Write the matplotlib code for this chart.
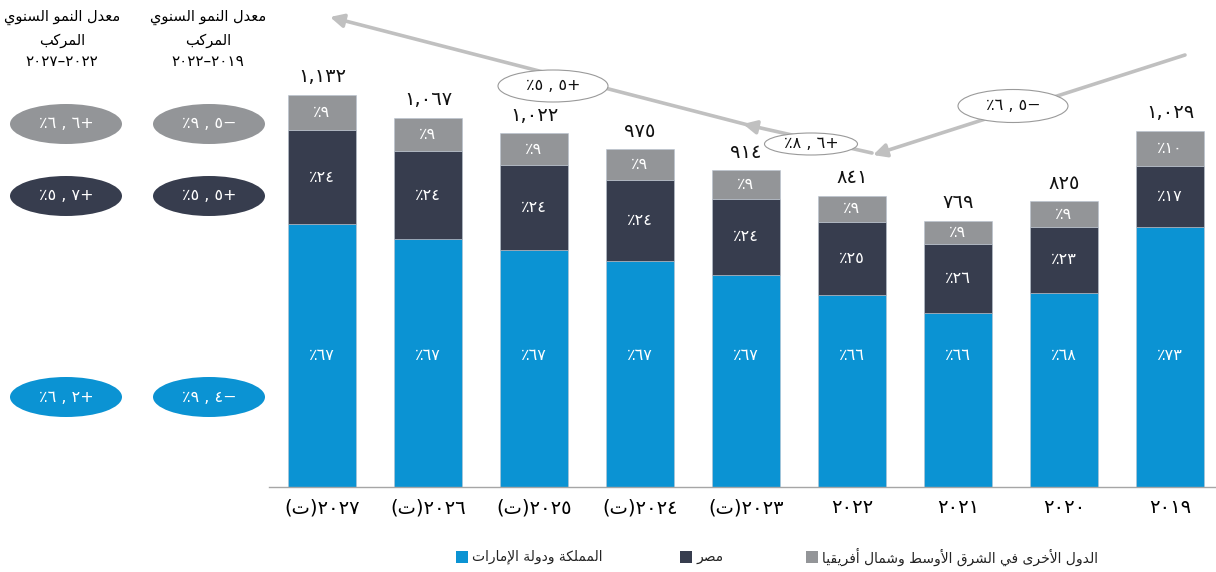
import matplotlib
matplotlib.use('Agg')
import matplotlib.pyplot as plt
from matplotlib.patches import Ellipse, Rectangle, FancyArrowPatch
import numpy as np

plt.rcParams['font.family'] = ['DejaVu Sans']

# ---------------- data ----------------
years = ['2027', '2026', '2025', '2024', '2023', '2022', '2021', '2020', '2019']
forecast = [True, True, True, True, True, False, False, False, False]
totals = [1132, 1067, 1022, 975, 914, 841, 769, 825, 1029]
pct_ksa_uae = [67, 67, 67, 67, 67, 66, 66, 68, 73]
pct_egypt = [24, 24, 24, 24, 24, 25, 26, 23, 17]
pct_other = [9, 9, 9, 9, 9, 9, 9, 9, 10]
series_names = ['المملكة ودولة الإمارات', 'مصر', 'الدول الأخرى في الشرق الأوسط وشمال أفريقيا']
cagr_2022_2027 = [6.2, 5.7, 6.6]    # ksa/uae, egypt, other
cagr_2019_2022 = [-9.4, 5.5, -9.5]  # ksa/uae, egypt, other
total_cagr_2019_2022 = -6.5
total_growth_2022_2023 = 8.6
total_cagr_2022_2027 = 5.5
header_title = 'معدل النمو السنوي'
header_sub = 'المركب'
forecast_mark = 'ت'

colors = ['#0b93d3', '#373d4e', '#939598']

# ---------------- arabic helpers ----------------
_DUAL = {0x0626: 0xFE89, 0x0628: 0xFE8F, 0x062A: 0xFE95, 0x062B: 0xFE99, 0x062C: 0xFE9D,
         0x062D: 0xFEA1, 0x062E: 0xFEA5, 0x0633: 0xFEB1, 0x0634: 0xFEB5, 0x0635: 0xFEB9,
         0x0636: 0xFEBD, 0x0637: 0xFEC1, 0x0638: 0xFEC5, 0x0639: 0xFEC9, 0x063A: 0xFECD,
         0x0641: 0xFED1, 0x0642: 0xFED5, 0x0643: 0xFED9, 0x0644: 0xFEDD, 0x0645: 0xFEE1,
         0x0646: 0xFEE5, 0x0647: 0xFEE9, 0x064A: 0xFEF1}
_RIGHT = {0x0622: 0xFE81, 0x0623: 0xFE83, 0x0624: 0xFE85, 0x0625: 0xFE87, 0x0627: 0xFE8D,
          0x0629: 0xFE93, 0x062F: 0xFEA9, 0x0630: 0xFEAB, 0x0631: 0xFEAD, 0x0632: 0xFEAF,
          0x0648: 0xFEED, 0x0649: 0xFEEF}
FORMS = {0x0621: (0xFE80,)}
for k, b in _DUAL.items():
    FORMS[k] = (b, b + 1, b + 2, b + 3)
for k, b in _RIGHT.items():
    FORMS[k] = (b, b + 1)
LAMALEF = {'\u0622': (0xFEF5, 0xFEF6), '\u0623': (0xFEF7, 0xFEF8),
           '\u0625': (0xFEF9, 0xFEFA), '\u0627': (0xFEFB, 0xFEFC)}


def _dual(c):
    return ord(c) in FORMS and len(FORMS[ord(c)]) == 4


def _rjoin(c):
    return ord(c) in FORMS and len(FORMS[ord(c)]) > 1


def ar(text):
    chars = list(text)
    toks = []
    i = 0
    while i < len(chars):
        c = chars[i]
        if c == '\u0644' and i + 1 < len(chars) and chars[i + 1] in LAMALEF:
            toks.append(('LA', chars[i + 1]))
            i += 2
        else:
            toks.append(('C', c))
            i += 1
    res = []
    for k, (t, c) in enumerate(toks):
        prev = toks[k - 1] if k > 0 else None
        nxt = toks[k + 1] if k + 1 < len(toks) else None
        prev_j = prev is not None and prev[0] == 'C' and _dual(prev[1])
        if t == 'LA':
            iso, fin = LAMALEF[c]
            res.append(chr(fin if prev_j else iso))
            continue
        if ord(c) not in FORMS:
            res.append(c)
            continue
        f = FORMS[ord(c)]
        pj = prev_j and _rjoin(c)
        nj = _dual(c) and nxt is not None and (nxt[0] == 'LA' or _rjoin(nxt[1]))
        if pj and nj:
            res.append(chr(f[3]))
        elif pj:
            res.append(chr(f[1]))
        elif nj:
            res.append(chr(f[2]))
        else:
            res.append(chr(f[0]))
    return ''.join(reversed(res))


AD = str.maketrans('0123456789', '٠١٢٣٤٥٦٧٨٩')


def fmt_total(v):
    return f'{v:,}'.translate(AD)


def fmt_pct(v):
    return '٪' + str(v).translate(AD)


def fmt_cagr(v):
    s = f'{abs(v):.1f}'
    a, b = s.split('.')
    sign = '+' if v >= 0 else '−'
    return '٪' + a.translate(AD) + ' , ' + b.translate(AD) + sign


def fmt_year(y, fc):
    return ('(' + forecast_mark + ')' if fc else '') + y.translate(AD)


# ---------------- figure ----------------
W, H = 1216, 572
fig = plt.figure(figsize=(W / 100, H / 100), dpi=100)
fig.patch.set_facecolor('white')

base_px = 487
ax = fig.add_axes([269 / W, (H - base_px) / H, (W - 269) / W, base_px / H])
x = np.arange(len(years))
tot = np.array(totals, float)
P = np.array([pct_ksa_uae, pct_egypt, pct_other], float)
Hs = tot * P / P.sum(axis=0)
bw = 0.64
bottom = np.zeros(len(years))
for i in range(3):
    ax.bar(x, Hs[i], bottom=bottom, width=bw, color=colors[i], edgecolor='#b9c3cf',
           linewidth=0.4, zorder=2)
    bottom += Hs[i]

ax.set_xlim(-0.5, (W - 322) / 106)
px_per_unit = 392 / 1132
ax.set_ylim(0, base_px / px_per_unit)

# segment labels
blue_label_y = 132 / px_per_unit
for j in range(len(years)):
    ax.text(x[j], blue_label_y, fmt_pct(pct_ksa_uae[j]), ha='center', va='center',
            color='white', fontsize=11.5, zorder=3)
    ax.text(x[j], Hs[0][j] + Hs[1][j] / 2, fmt_pct(pct_egypt[j]), ha='center',
            va='center', color='white', fontsize=11.5, zorder=3)
    ax.text(x[j], Hs[0][j] + Hs[1][j] + Hs[2][j] / 2, fmt_pct(pct_other[j]),
            ha='center', va='center', color='white', fontsize=11.5, zorder=3)
    ax.annotate(fmt_total(totals[j]), (x[j], totals[j]), xytext=(0, 13),
                textcoords='offset points', ha='center', va='center', fontsize=14,
                color='#111111')

for s in ['top', 'right', 'left']:
    ax.spines[s].set_visible(False)
ax.spines['bottom'].set_color('#a6a6a6')
ax.spines['bottom'].set_linewidth(1.0)
ax.set_yticks([])
ax.set_xticks(x)
ax.set_xticklabels([fmt_year(y, f) for y, f in zip(years, forecast)], fontsize=14)
ax.tick_params(axis='x', length=0, pad=8)

# ---------------- overlay (annotations) ----------------
ov = fig.add_axes([0, 0, 1, 1], zorder=5)
ov.set_xlim(0, W)
ov.set_ylim(H, 0)
ov.axis('off')
ov.patch.set_alpha(0)

# header
for cx, (a, b) in [(208, ('2019', '2022')), (62, ('2022', '2027'))]:
    ov.text(cx, 17, ar(header_title), ha='center', va='center', fontsize=10.5)
    ov.text(cx, 40, ar(header_sub), ha='center', va='center', fontsize=10.5)
    ov.text(cx, 61, b.translate(AD) + '–' + a.translate(AD), ha='center', va='center',
            fontsize=11)

rows_y = [397, 196, 124]  # ksa, egypt, other
for i in range(3):
    for cx, vals in [(66, cagr_2022_2027), (209, cagr_2019_2022)]:
        ov.add_patch(Ellipse((cx, rows_y[i]), 112, 40, facecolor=colors[i],
                             edgecolor='none'))
        ov.text(cx, rows_y[i], fmt_cagr(vals[i]), ha='center', va='center',
                color='white', fontsize=11.5)

# arrows
acol = '#c0c0c0'
for p0, p1 in [((1185, 55), (873, 155)), ((872, 153), (743, 124)), ((752, 126), (330, 17))]:
    ov.add_patch(FancyArrowPatch(p0, p1, arrowstyle='-|>', mutation_scale=20,
                                 color=acol, lw=2.6, shrinkA=0, shrinkB=0))

for (cx, cy, w, h, v) in [(1013, 106, 110, 33, total_cagr_2019_2022),
                          (811, 144, 93, 22, total_growth_2022_2023),
                          (553, 86, 110, 32, total_cagr_2022_2027)]:
    ov.add_patch(Ellipse((cx, cy), w, h, facecolor='white', edgecolor='#9a9a9a', lw=0.8))
    ov.text(cx, cy, fmt_cagr(v), ha='center', va='center', fontsize=11.5, color='#111111')

# legend
for (sx, i) in [(456, 0), (680, 1), (806, 2)]:
    ov.add_patch(Rectangle((sx, 551), 12, 12, facecolor=colors[i], edgecolor='none'))
    ov.text(sx + 16, 557, ar(series_names[i]), ha='left', va='center', fontsize=10,
            color='#222222')

fig.savefig('out.png', dpi=100, facecolor='white')
